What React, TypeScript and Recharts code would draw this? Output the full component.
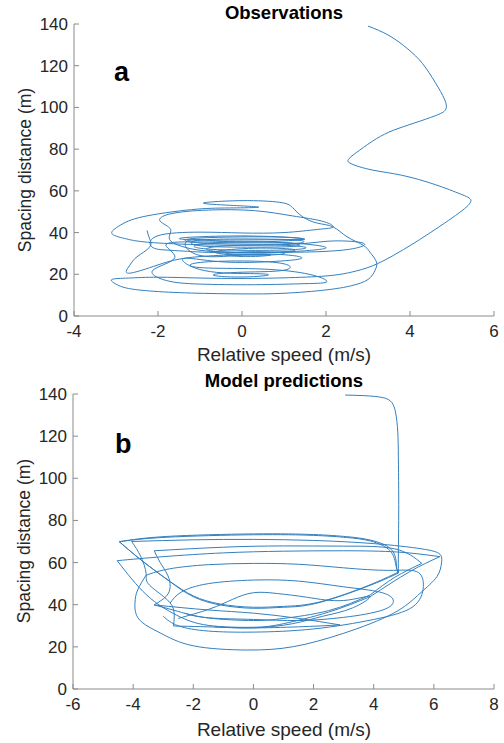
import { LineChart, Line, XAxis, YAxis } from 'recharts'

// ── tick values ──
const obsXTicks = [-4, -2, 0, 2, 4, 6]
const predXTicks = [-6, -4, -2, 0, 2, 4, 6, 8]
const yTicks = [0, 20, 40, 60, 80, 100, 120, 140]

type Pt = [number, number] // [relative speed, spacing]

// ── observations ──
const obsEntry: Pt[] = [
  [3.0, 139], [3.5, 134.5], [3.95, 128], [4.3, 121], [4.6, 112], [4.82, 104], [4.85, 99], [4.6, 96],
  [4.1, 92.5], [3.6, 89], [3.2, 85], [2.8, 79.5], [2.55, 75.5], [2.6, 73], [3.1, 70], [3.8, 67.5],
  [4.6, 63], [5.2, 58.5], [5.45, 55.5], [5.3, 51.5], [5.0, 47], [4.6, 41.5], [4.1, 35], [3.6, 29],
  [3.1, 24], [2.6, 21], [2.0, 19.2], [1.0, 18.3], [0, 18], [-1, 18.2], [-2, 18.6], [-2.7, 18.2], [-3.1, 17.5],
]
const obsOuter: Pt[] = [
  [-3.0, 15.3], [-2.75, 13.4], [-2.2, 12], [-1.2, 11], [0, 10.6], [1.0, 10.9], [2.0, 12.5], [2.6, 14.5],
  [3.0, 17.5], [3.17, 22], [3.2, 26], [3.05, 30.5], [2.88, 34], [2.5, 38], [2.17, 42.7], [1.8, 44.5],
  [1.45, 47.5], [1.2, 52], [0.9, 54.5], [0, 55.3], [-0.9, 54.3], [-0.4, 53.2], [0.4, 52.2], [-0.3, 51.8],
  [-1.2, 51], [-2.36, 47.6], [-2.9, 43.5], [-3.1, 39.6], [-2.8, 37.2], [-2.36, 35.6], [-1.5, 34.5],
  [-0.5, 34], [0.5, 34], [1.5, 34.8], [2.2, 36], [2.88, 35], [2.7, 32.5], [2.0, 31], [1.0, 30.5],
  [0, 30.5], [-1.0, 31.5],
]
const obsUpper: Pt[] = [
  [-1.7, 36], [-1.7, 41.5], [-1.95, 45.5], [-1.7, 49], [-0.8, 50.8], [0.3, 50.5], [1.2, 48],
  [1.9, 45.5], [2.17, 42.7], [1.8, 41.5], [1.0, 40], [0, 39.8], [-1.0, 40.2], [-2.0, 38.5],
]
const obsMid: Pt[] = [
  [-2.15, 33.2], [-1.7, 31.5], [-0.8, 30.5], [0.3, 30.2], [1.3, 31], [2.0, 32.6], [1.5, 34.5], [0.5, 35.5],
  [-0.8, 35.5], [-1.8, 34.5], [-1.6, 28], [-2.12, 22], [-1.8, 17], [-1.0, 15.3], [0.3, 15], [1.5, 15.5],
  [2.02, 16.5], [1.6, 20], [0.5, 22.5], [-0.8, 23], [-1.24, 24.4], [-0.8, 26], [0.3, 26.3], [1.0, 25],
  [1.14, 23], [0.8, 21.5], [0, 21], [-0.6, 20.2], [-0.6, 19.2], [0, 18.7], [0.6, 19.5], [0.3, 20.3],
  [-0.9, 21.8], [-1.4, 27.5], [-0.5, 26], [0.8, 26.2], [1.4, 27.5], [1.2, 29], [0.2, 29.5], [-1.0, 29],
]
const obsCore: Pt[] = [
  [-1.3, 36], [-0.3, 35.6], [1.0, 36], [1.45, 37], [0.6, 38.2], [-0.5, 38.3], [-1.4, 37.5], [-1.3, 36.6],
  [-0.3, 36.4], [1.0, 36.6], [1.5, 36.8], [1.0, 37.8], [-0.4, 37.8], [-1.3, 36.8], [-1.1, 35.2], [0, 34.5],
  [1.2, 34.7], [1.45, 36], [0.8, 36.8], [-0.6, 36.8], [-1.2, 35.5], [-0.9, 33.5], [0.3, 33], [1.3, 33.5],
  [1.1, 35], [0, 35.5], [-1.0, 34.5], [-1.0, 32.5], [0, 31.5], [1.2, 31.8], [1.5, 33], [0.8, 34],
  [-0.5, 33.5], [-0.8, 31.5], [0, 30.5], [1.0, 30.8], [1.2, 32], [0.3, 32.5], [-0.6, 31], [-0.3, 29.5],
  [0.6, 29.2], [1.0, 30.2], [0.2, 30.8], [-0.4, 29.5], [0.2, 28.5], [0.6, 29.5], [-1.0, 28.5],
]
const obsEnd: Pt[] = [
  [-2.0, 24.5], [-2.7, 20.5], [-2.67, 24.4], [-2.5, 28.4], [-2.2, 33], [-2.2, 37], [-2.26, 41],
]

// ── model predictions: pieces between the sharp corners ──
const predEntry: Pt[] = [
  [3.05, 139.5], [3.7, 139.2], [4.3, 138.3], [4.6, 136], [4.73, 131], [4.8, 122], [4.82, 110],
  [4.83, 95], [4.83, 80], [4.82, 65], [4.82, 55],
]
const predABottom1: Pt[] = [
  [4.82, 55], [3.77, 48.6], [2.1, 40.7], [1, 38.8], [0, 38.3], [-1.11, 39.9], [-2.0, 43.8],
  [-2.77, 50.9], [-3.66, 60.4], [-4.46, 69.9],
]
const predATop1: Pt[] = [
  [-4.46, 69.9], [-2.88, 72.4], [0, 73.6], [2.0, 73.3], [3.1, 72.3], [3.88, 70.7], [4.6, 66], [4.76, 58], [4.82, 55],
]
const predABottom2: Pt[] = [
  [4.82, 55.5], [3.8, 49], [2.2, 41.3], [1, 39.2], [0, 38.8], [-1.1, 40.3], [-2.0, 44.2],
  [-2.8, 51.3], [-3.7, 60.8], [-4.46, 69.9],
]
const predATop2: Pt[] = [
  [-4.46, 69.9], [-2.9, 72.0], [0, 73.2], [2.0, 72.9], [3.1, 71.9], [3.9, 70.2], [4.55, 65.5], [4.74, 58.5], [4.82, 55.5],
]
const predBTop: Pt[] = [[-4.53, 60.9], [-3, 62.8], [-1, 64.6], [1, 65.4], [3, 65.6], [4.8, 65], [6.2, 62.8]]
const predBDown: Pt[] = [[6.2, 62.8], [5.2, 55.7], [3.88, 43.8]]
const predBBottom: Pt[] = [
  [3.88, 43.8], [2.5, 36.5], [1, 31], [0, 29.3], [-1.5, 30.2], [-2.55, 35], [-3.55, 44.6], [-4.53, 60.9],
]
const predCTop: Pt[] = [[-3.3, 65.6], [-1, 67.3], [1, 67.9], [3, 67.8], [4.7, 66.5], [5.6, 59.6]]
const predCDown: Pt[] = [[5.6, 59.6], [4.7, 53], [3.88, 44.6]]
const predCBottom: Pt[] = [
  [3.88, 44.6], [2.5, 37.2], [1, 33.5], [0, 32.5], [-1.5, 33.7], [-2.5, 36.8], [-3.3, 39.9],
]
const predCLeft: Pt[] = [[-3.3, 39.9], [-2.9, 44], [-2.77, 48.6], [-2.85, 54], [-3.1, 60], [-3.3, 65.6]]
const predDTop: Pt[] = [
  [-4.05, 70], [-2, 70.8], [0, 71], [2, 70.5], [4, 69], [5.6, 66.5], [6.2, 64], [6.26, 60.4],
]
const predDLeft: Pt[] = [[-4.05, 70], [-3.75, 63], [-3.57, 55], [-3.5, 50], [-3.0, 44], [-2.66, 38], [-2.66, 29.9]]
const predEBottom: Pt[] = [[-2.66, 29.9], [-1, 29.3], [0, 29], [1.5, 29.5], [2.88, 30.4]]
const predEUp: Pt[] = [[2.88, 30.4], [1.5, 33.5], [0, 36], [-1.5, 37.5], [-3.3, 39.9]]
const predLow: Pt[] = [
  [6.26, 60.4], [6.1, 53.3], [5.54, 45.4], [4.65, 35.9], [2.99, 26.4], [1.33, 20.1], [-0.22, 18.5],
  [-2, 20.5], [-3.1, 26.6], [-3.8, 33], [-3.94, 40.7], [-3.85, 47], [-3.57, 54],
]
const predG: Pt[] = [
  [-3.57, 54], [-2.8, 57], [-1.5, 59], [0, 59.6], [1.5, 59.2], [3, 57.5], [4.5, 56.3], [5.43, 55.7],
  [5.65, 48.6], [5.3, 39], [4, 33], [2, 28.5], [0, 27], [-1.5, 27.5], [-2.5, 30], [-3.0, 34.5],
]
const predH: Pt[] = [
  [-2.77, 40.8], [-2.4, 46], [-1.5, 50], [0, 51.7], [1.5, 51.2], [3, 48.5], [4.2, 46], [4.65, 42.2],
  [4.3, 37.5], [3, 34], [1.5, 32.5], [0, 33], [-1.5, 33.8], [-2.3, 36],
]
const predI: Pt[] = [
  [-2.5, 33.5], [-1.45, 38], [-0.7, 42.5], [0, 45.7], [0.8, 45.3], [1.8, 43.5], [3, 42], [3.88, 44],
  [3.3, 38.5], [2.3, 34.5], [1.3, 31], [0, 29], [-1.3, 29.5],
]

const toPts = (seg: Pt[]) => seg.map(([v, d]) => ({ v, d }))
const obsSegments = [[...obsEntry, ...obsOuter, ...obsUpper, ...obsMid, ...obsCore, ...obsEnd]].map(toPts)
const predSegments = [
  predEntry, predABottom1, predATop1, predABottom2, predATop2, predBTop, predBDown, predBBottom,
  predCTop, predCDown, predCBottom, predCLeft, predDTop, predDLeft, predEBottom, predEUp,
  predLow, predG, predH, predI,
].map(toPts)

const FONT = '"Liberation Sans", Arial, sans-serif'
const FRAME = '#8a8a8a'
const TEXT = '#262626'
const LINE = '#3380c0'

function Panel({ segments, xTicks, height, leftW }: { segments: { v: number; d: number }[][]; xTicks: number[]; height: number; leftW: number }) {
  const xDom: [number, number] = [xTicks[0], xTicks[xTicks.length - 1]]
  const tick = { fill: TEXT, fontSize: 17, fontFamily: FONT }
  return (
    <LineChart width={504} height={height} margin={{ top: 24, right: 10, bottom: 0, left: 0 }}>
      <XAxis type="number" dataKey="v" domain={xDom} ticks={xTicks} interval={0} height={54}
        tickSize={-5} tickMargin={14} stroke={FRAME} tick={tick} allowDataOverflow />
      <XAxis xAxisId="top" orientation="top" type="number" dataKey="v" domain={xDom} ticks={xTicks}
        interval={0} height={0} tickSize={-5} tick={false} stroke={FRAME} allowDataOverflow />
      <YAxis type="number" domain={[0, 140]} ticks={yTicks} interval={0} width={leftW}
        tickSize={-5} tickMargin={11} stroke={FRAME} tick={tick} allowDataOverflow />
      <YAxis yAxisId="right" orientation="right" type="number" domain={[0, 140]} ticks={yTicks}
        interval={0} width={0} tickSize={-5} tick={false} stroke={FRAME} allowDataOverflow />
      {segments.map((seg, i) => (
        <Line key={i} data={seg} type="natural" dataKey="d" stroke={LINE} strokeWidth={1}
          dot={false} isAnimationActive={false} />
      ))}
    </LineChart>
  )
}

export default function App() {
  const hLabel = { fontFamily: FONT, fill: TEXT, fontSize: 19 }
  const vLabel = { fontFamily: FONT, fill: TEXT, fontSize: 17.5 }
  const title = { fontFamily: FONT, fill: '#000', fontSize: 18.5, fontWeight: 700 }
  const letter = { fontFamily: FONT, fill: '#000', fontSize: 27, fontWeight: 700 }
  return (
    <div style={{ position: 'absolute', left: 0, top: 0, width: 504, height: 743, background: '#fff' }}>
      <div style={{ position: 'absolute', left: 0, top: 0 }}>
        <Panel segments={obsSegments} xTicks={obsXTicks} height={370} leftW={74} />
      </div>
      <div style={{ position: 'absolute', left: 0, top: 370 }}>
        <Panel segments={predSegments} xTicks={predXTicks} height={373} leftW={73} />
      </div>
      <svg width={504} height={743} style={{ position: 'absolute', left: 0, top: 0, pointerEvents: 'none' }}>
        <text x={284} y={19} textAnchor="middle" style={title}>Observations</text>
        <text x={114} y={81} style={letter}>a</text>
        <text x={284} y={361} textAnchor="middle" style={hLabel}>Relative speed (m/s)</text>
        <text transform="translate(31,170) rotate(-90)" textAnchor="middle" style={vLabel}>Spacing distance (m)</text>

        <text x={284} y={387} textAnchor="middle" style={title}>Model predictions</text>
        <text x={115} y={453} style={letter}>b</text>
        <text x={284} y={736} textAnchor="middle" style={hLabel}>Relative speed (m/s)</text>
        <text transform="translate(30,541) rotate(-90)" textAnchor="middle" style={vLabel}>Spacing distance (m)</text>
      </svg>
    </div>
  )
}
